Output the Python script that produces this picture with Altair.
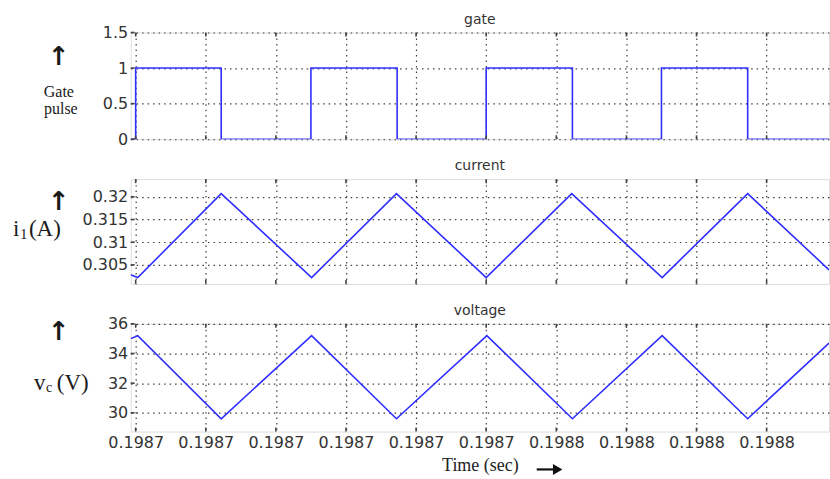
import json
import altair as alt
import pandas as pd

# ---------------- data ----------------
# time axis: microseconds after t0 (tick every 10 us)
x_ticks = [0, 10, 20, 30, 40, 50, 60, 70, 80, 90]
x_labels = ["0.1987"] * 6 + ["0.1988"] * 4

gate_t = [-0.71, 0.0, 12.2, 25.0, 37.3, 50.0, 62.3, 75.0, 87.3, 98.9]
gate_v = [0, 1, 0, 1, 0, 1, 0, 1, 0, 0]

cur_t = [-0.71, 0.3, 12.2, 25.1, 37.2, 50.0, 62.2, 75.1, 87.3, 98.9]
cur_v = [0.3028, 0.3022, 0.3207, 0.3022, 0.3207, 0.3022, 0.3207, 0.3022, 0.3207, 0.3039]

volt_t = [-0.71, 0.3, 12.2, 25.1, 37.2, 50.1, 62.3, 75.1, 87.3, 98.9]
volt_v = [35.0, 35.2, 29.6, 35.2, 29.6, 35.2, 29.6, 35.2, 29.6, 34.7]

gate_ticks = [0, 0.5, 1, 1.5]
cur_ticks = [0.305, 0.31, 0.315, 0.32]
volt_ticks = [30, 32, 34, 36]

panel_titles = ["gate", "current", "voltage"]

X_DOMAIN = [-0.71, 98.9]
W = 700
LINE_COLOR = "#2f2fff"
FRAME = "#444444"
SANS = "DejaVu Sans"
SERIF = "Liberation Serif"

label_expr = f"{json.dumps(x_labels)}[round(datum.value / 10)]"
GRID = dict(grid=True, gridDash=[1.5, 4], gridColor="#000000", gridOpacity=0.75,
            gridWidth=1.2, ticks=False, domain=False, labelOverlap=False)


def xaxis(show_labels):
    if show_labels:
        return alt.Axis(values=x_ticks, labelExpr=label_expr, labelFont=SANS,
                        labelFontSize=16, labelColor="#333333", labelPadding=3,
                        title="Time (sec)", titleFont=SERIF, titleFontSize=18,
                        titleFontWeight="normal", titleColor="#222222", titlePadding=6,
                        **GRID)
    return alt.Axis(values=x_ticks, labels=False, title=None, **GRID)


def panel(t, v, ydomain, yticks, title, height, show_x, interp, notes, right_arrow=False):
    df = pd.DataFrame({"t": t, "v": v})
    xs = alt.Scale(domain=X_DOMAIN, nice=False, zero=False)
    ys = alt.Scale(domain=ydomain, nice=False, zero=False)
    xa = xaxis(show_x)
    ya = alt.Axis(values=yticks, format="~g", labelFont=SANS, labelFontSize=16,
                  labelColor="#333333", labelPadding=3, title=None, **GRID)
    xtitle = "Time (sec)" if show_x else None

    def X():
        return alt.X("t:Q", scale=xs, axis=xa, title=xtitle)

    def Y():
        return alt.Y("v:Q", scale=ys, axis=ya, title=None)

    line = alt.Chart(df).mark_line(color=LINE_COLOR, strokeWidth=1.6, interpolate=interp,
                                   clip=True).encode(x=X(), y=Y())

    xt = pd.DataFrame({"t": x_ticks})
    tick_b = alt.Chart(xt).mark_rule(color=FRAME, strokeWidth=1.6).encode(
        x=X(), y=alt.value(height), y2=alt.value(height - 4))
    tick_t = alt.Chart(xt).mark_rule(color=FRAME, strokeWidth=1.6).encode(
        x=X(), y=alt.value(0), y2=alt.value(4))
    yt = pd.DataFrame({"v": yticks})
    tick_l = alt.Chart(yt).mark_rule(color=FRAME, strokeWidth=1.6).encode(
        y=Y(), x=alt.value(0), x2=alt.value(4))

    layers = [line, tick_b, tick_t, tick_l]
    notes = notes + [(title, W / 2, -13, 14, SANS, "normal", "center")]
    for (txt, x, y, size, font, weight, align) in notes:
        layers.append(
            alt.Chart(pd.DataFrame({"s": [txt]})).mark_text(
                font=font, fontSize=size, fontWeight=weight, align=align,
                baseline="middle",
                color="#333333" if font == SANS and size == 14 else "#1a1a1a").encode(
                x=alt.value(x), y=alt.value(y), text="s:N"))

    if right_arrow:
        one = pd.DataFrame({"s": ["arrow"]})
        layers.append(alt.Chart(one).mark_rule(color="#111111", strokeWidth=2.2).encode(
            x=alt.value(407), x2=alt.value(426), y=alt.value(height + 38)))
        layers.append(alt.Chart(one).mark_point(
            shape="triangle-right", filled=True, color="#111111", opacity=1, size=120).encode(
            x=alt.value(428), y=alt.value(height + 38)))

    return alt.layer(*layers).properties(width=W, height=height)


up = "\u2191"
p1 = panel(gate_t, gate_v, [0, 1.5], gate_ticks, panel_titles[0], 107, False, "step-after", [
    (up, -72, 25, 26, SANS, "bold", "center"),
    ("Gate", -72, 60, 16, SERIF, "normal", "center"),
    ("pulse", -70, 77, 16, SERIF, "normal", "center"),
])
p2 = panel(cur_t, cur_v, [0.3008, 0.3239], cur_ticks, panel_titles[1], 105, False, "linear", [
    (up, -72, 23, 26, SANS, "bold", "center"),
    ("i", -118, 50, 23, SERIF, "normal", "left"),
    ("1", -111, 55, 15, SERIF, "normal", "left"),
    ("(A)", -102, 50, 23, SERIF, "normal", "left"),
])
p3 = panel(volt_t, volt_v, [28.74, 36], volt_ticks, panel_titles[2], 108, True, "linear", [
    (up, -72, 8, 26, SANS, "bold", "center"),
    ("v", -97, 59, 23, SERIF, "normal", "left"),
    ("c", -85, 64, 14, SERIF, "normal", "left"),
    ("(V)", -74, 59, 23, SERIF, "normal", "left"),
], right_arrow=True)

chart = alt.vconcat(p1, p2, p3, spacing=40, bounds="flush").properties(
    padding={"left": 12, "right": 0, "top": 11, "bottom": 0}
).configure_view(stroke=FRAME, strokeWidth=1.5).configure(background="white")

chart.save("out.html", embed_options={"renderer": "svg", "actions": False})
